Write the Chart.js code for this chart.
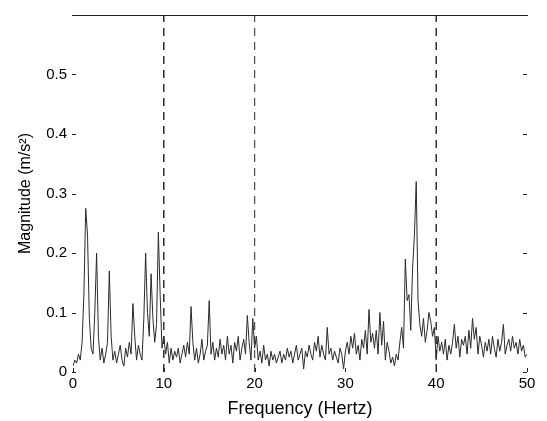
<!DOCTYPE html>
<html>
<head>
<meta charset="utf-8">
<script src="https://cdn.jsdelivr.net/npm/chart.js@4.4.1/dist/chart.umd.min.js"></script>
<style>
html,body{margin:0;padding:0;background:#fff;}
#wrap{width:547px;height:421px;}
</style>
</head>
<body>
<div id="wrap"><canvas id="c" width="547" height="421"></canvas></div>
<script>
// Spectrum sampled every 0.2 Hz from 0 to 50 Hz
const freqStep = 0.2;
const magnitude = [
  0.01, 0.02, 0.015, 0.03, 0.02,
  0.05, 0.13, 0.275, 0.23, 0.09,
  0.04, 0.03, 0.1, 0.2, 0.06,
  0.02, 0.04, 0.015, 0.03, 0.05,
  0.17, 0.06, 0.02, 0.035, 0.015,
  0.03, 0.045, 0.02, 0.01, 0.04,
  0.025, 0.05, 0.03, 0.115, 0.06,
  0.02, 0.045, 0.03, 0.02, 0.09,
  0.2, 0.1, 0.06, 0.165, 0.09,
  0.05, 0.08, 0.235, 0.13, 0.04,
  0.06, 0.03, 0.05, 0.015, 0.04,
  0.02, 0.035, 0.025, 0.04, 0.015,
  0.03, 0.045, 0.025, 0.05, 0.03,
  0.11, 0.05, 0.02, 0.04, 0.015,
  0.03, 0.055, 0.02, 0.035, 0.045,
  0.12, 0.03, 0.05, 0.02, 0.04,
  0.025, 0.055, 0.03, 0.045, 0.02,
  0.06, 0.03, 0.045, 0.015, 0.05,
  0.035, 0.06, 0.02, 0.04, 0.055,
  0.03, 0.095, 0.05, 0.02, 0.09,
  0.04, 0.06, 0.02, 0.035, 0.015,
  0.045, 0.02, 0.03, 0.01, 0.035,
  0.02, 0.03, 0.015, 0.025, 0.035,
  0.015, 0.03, 0.02, 0.04, 0.025,
  0.035, 0.015, 0.03, 0.045, 0.02,
  0.03, 0.04, 0.005, 0.035, 0.025,
  0.045, 0.03, 0.02, 0.05, 0.035,
  0.06, 0.025, 0.045, 0.03, 0.02,
  0.075, 0.03, 0.04, 0.02, 0.035,
  0.025, 0.015, 0.04, 0.03, 0.005,
  0.035, 0.05, 0.03, 0.06, 0.04,
  0.065, 0.03, 0.045, 0.02, 0.055,
  0.04, 0.07, 0.03, 0.105, 0.05,
  0.065, 0.04, 0.07, 0.03, 0.1,
  0.045, 0.085, 0.02, 0.05, 0.035,
  0.015, 0.025, 0.01, 0.03, 0.02,
  0.05, 0.075, 0.04, 0.19, 0.12,
  0.13, 0.07, 0.175, 0.23, 0.32,
  0.12, 0.08, 0.06, 0.09, 0.05,
  0.07, 0.1, 0.085, 0.06, 0.075,
  0.02, 0.06, 0.035, 0.05, 0.03,
  0.055, 0.02, 0.045, 0.03, 0.05,
  0.08, 0.04, 0.06, 0.025, 0.055,
  0.045, 0.06, 0.03, 0.07, 0.04,
  0.09, 0.055, 0.075, 0.03, 0.06,
  0.045, 0.025, 0.05, 0.035, 0.055,
  0.03, 0.06, 0.04, 0.025, 0.055,
  0.035, 0.05, 0.08, 0.03, 0.045,
  0.055, 0.035, 0.06, 0.04, 0.05,
  0.03, 0.055, 0.035, 0.045, 0.025,
  0.03
];
const markerFreqs = [10, 20, 40];
const xTicks = [0, 10, 20, 30, 40, 50];
const yTicks = [0, 0.1, 0.2, 0.3, 0.4, 0.5];
const xTitle = 'Frequency (Hertz)';
const yTitle = 'Magnitude (m/s\u00B2)';

const spectrum = magnitude.map((v, i) => ({x: +(i * freqStep).toFixed(2), y: v}));
const markerSets = markerFreqs.map((f, k) => ({
  type: 'line',
  data: [{x: f, y: 0}, {x: f, y: 0.6}],
  borderColor: k === 1 ? '#555' : '#111',
  borderWidth: 1.3,
  borderDash: [8, 6],
  pointRadius: 0,
  fill: false
}));

const inwardTicks = {
  id: 'inwardTicks',
  afterDatasetsDraw(chart) {
    const {ctx, chartArea: a, scales} = chart;
    ctx.save();
    ctx.strokeStyle = '#222';
    ctx.lineWidth = 1;
    // top border
    ctx.beginPath();
    ctx.moveTo(a.left - 1, a.top + 0.5);
    ctx.lineTo(a.right + 1, a.top + 0.5);
    ctx.stroke();
    ctx.beginPath();
    yTicks.forEach(t => {
      const y = Math.round(scales.y.getPixelForValue(t)) + 0.5;
      ctx.moveTo(a.left - 1, y); ctx.lineTo(a.left + 3, y);
      ctx.moveTo(a.right, y); ctx.lineTo(a.right - 4, y);
    });
    xTicks.forEach(t => {
      const x = Math.round(scales.x.getPixelForValue(t)) + 0.5;
      ctx.moveTo(x, a.bottom); ctx.lineTo(x, a.bottom - 4);
    });
    ctx.stroke();
    ctx.restore();
  }
};

new Chart(document.getElementById('c'), {
  type: 'line',
  data: {
    datasets: [{
      data: spectrum,
      borderColor: '#2a2a2a',
      borderWidth: 1,
      pointRadius: 0,
      tension: 0,
      fill: false
    }, ...markerSets]
  },
  options: {
    responsive: false,
    animation: false,
    layout: {padding: {top: 13, right: 20, left: 0, bottom: 0}},
    plugins: {legend: {display: false}, tooltip: {enabled: false}},
    scales: {
      x: {
        type: 'linear', min: 0, max: 50,
        afterBuildTicks: s => { s.ticks = xTicks.map(v => ({value: v})); },
        afterFit: s => { s.height = 49; },
        grid: {display: false, drawTicks: false},
        border: {display: false},
        ticks: {color: '#000', font: {family: 'Liberation Sans', size: 15}, padding: 3, maxRotation: 0},
        title: {display: true, text: xTitle, color: '#000', font: {family: 'Liberation Sans', size: 18}, padding: {top: 0, bottom: 1}}
      },
      y: {
        type: 'linear', min: 0, max: 0.6,
        afterBuildTicks: s => { s.ticks = yTicks.map(v => ({value: v})); },
        afterFit: s => { s.width = 73; },
        grid: {display: false, drawTicks: false},
        border: {display: false},
        ticks: {color: '#000', font: {family: 'Liberation Sans', size: 15}, padding: 6,
                callback: v => String(v)},
        title: {display: true, text: yTitle, color: '#000', font: {family: 'Liberation Sans', size: 16}, padding: {top: 16, bottom: 0}}
      }
    }
  },
  plugins: [inwardTicks]
});
</script>
</body>
</html>
